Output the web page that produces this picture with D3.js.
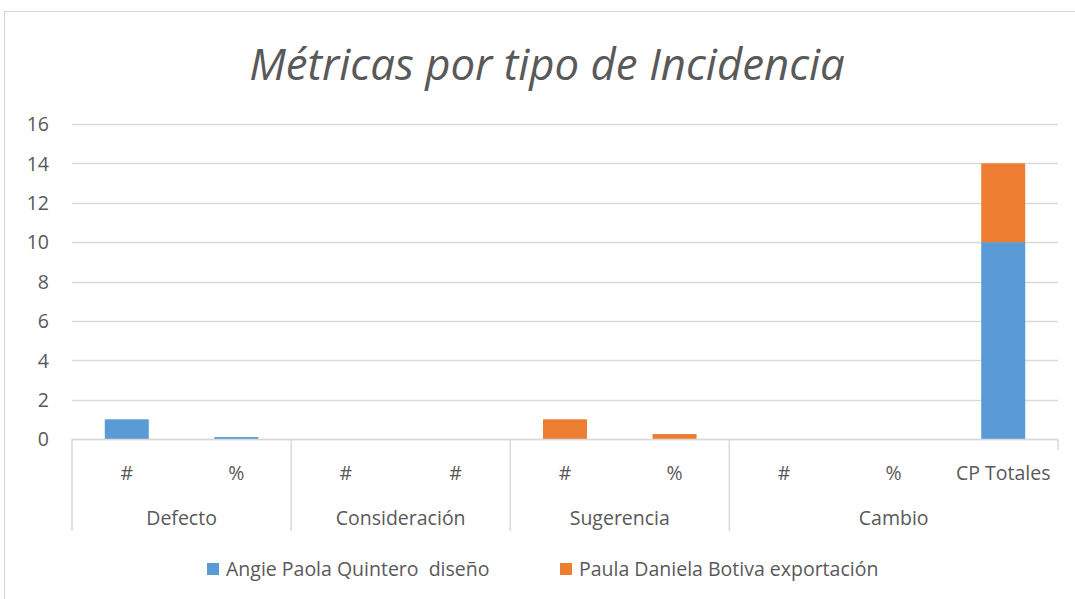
<!DOCTYPE html>
<html>
<head>
<meta charset="utf-8">
<script src="https://cdn.jsdelivr.net/npm/d3@7"></script>
<style>
  html, body { margin: 0; padding: 0; background: #fff; }
  svg { display: block; }
</style>
</head>
<body>
<div id="chart"></div>
<script>
// Category groups and their sub-category labels
const groups = ["Defecto", "Consideración", "Sugerencia", "Cambio"];
const subLabels = [
  ["#", "%"],
  ["#", "#"],
  ["#", "%"],
  ["#", "%", "CP Totales"]
];
// Series values, one entry per sub-category (flattened in group order)
const seriesNames = ["Angie Paola Quintero  diseño", "Paula Daniela Botiva exportación"];
const angieValues = [1, 0.1, 0, 0, 0, 0, 0, 0, 10];
const paulaValues = [0, 0, 0, 0, 1, 0.25, 0, 0, 4];
const yTicks = [0, 2, 4, 6, 8, 10, 12, 14, 16];
const colors = ["#5B9BD5", "#ED7D31"];

const W = 1075, H = 599;
const font = "'Open Sans', Lato, sans-serif";
const textColor = "#595959";
const gridColor = "#d9d9d9";
const labelSize = 19.5;

const svg = d3.select("#chart").append("svg")
  .attr("width", W).attr("height", H);

// outer chart frame
svg.append("rect")
  .attr("x", 4.5).attr("y", 11.5)
  .attr("width", W + 10).attr("height", H + 10)
  .attr("fill", "none").attr("stroke", gridColor).attr("stroke-width", 1.2);

const plot = { left: 72, right: 1058, top: 124, bottom: 439 };

// flatten categories with group index
const cats = [];
subLabels.forEach((subs, gi) => subs.forEach(s => cats.push({ group: gi, label: s })));
cats.forEach((c, i) => { c.i = i; c.angie = angieValues[i]; c.paula = paulaValues[i]; });

const xStep = (plot.right - plot.left) / cats.length;
const xCenter = i => plot.left + xStep * (i + 0.5);

const y = d3.scaleLinear().domain([0, 16]).range([plot.bottom, plot.top]);

// horizontal gridlines
svg.append("g").selectAll("line")
  .data(yTicks)
  .join("line")
  .attr("x1", plot.left).attr("x2", plot.right)
  .attr("y1", d => Math.round(y(d)) + 0.5).attr("y2", d => Math.round(y(d)) + 0.5)
  .attr("stroke", gridColor).attr("stroke-width", 1.5);

// y axis labels
const yAxis = d3.axisLeft(y).tickValues(yTicks).tickSize(0).tickPadding(0);
const yG = svg.append("g").attr("transform", `translate(${plot.left - 23},0)`).call(yAxis);
yG.select(".domain").remove();
yG.selectAll("text")
  .attr("font-family", font).attr("font-size", labelSize).attr("fill", textColor)
  .attr("dy", "0.35em");

// stacked bars
const stack = d3.stack().keys(["angie", "paula"]);
const stacked = stack(cats);
const barW = 44;
svg.append("g").selectAll("g")
  .data(stacked)
  .join("g")
  .attr("fill", (d, i) => colors[i])
  .selectAll("rect")
  .data(d => d)
  .join("rect")
  .attr("x", (d, i) => xCenter(i) - barW / 2)
  .attr("width", barW)
  .attr("y", d => y(d[1]))
  .attr("height", d => Math.max(0, y(d[0]) - y(d[1])));

// axis baseline
svg.append("line")
  .attr("x1", plot.left).attr("x2", plot.right)
  .attr("y1", plot.bottom + 0.5).attr("y2", plot.bottom + 0.5)
  .attr("stroke", gridColor).attr("stroke-width", 1.5);

// group dividers for the multi-level axis
let acc = 0;
const boundaries = [0];
subLabels.forEach(s => { acc += s.length; boundaries.push(acc); });
svg.append("g").selectAll("line")
  .data(boundaries)
  .join("line")
  .attr("x1", d => plot.left + d * xStep).attr("x2", d => plot.left + d * xStep)
  .attr("y1", plot.bottom)
  .attr("y2", (d, i) => i === boundaries.length - 1 ? plot.bottom + 11 : 531)
  .attr("stroke", gridColor).attr("stroke-width", 1.5);

// sub-category labels
svg.append("g").selectAll("text")
  .data(cats)
  .join("text")
  .attr("x", d => xCenter(d.i))
  .attr("y", 473)
  .attr("dy", "0.35em")
  .attr("text-anchor", "middle")
  .attr("font-family", font).attr("font-size", labelSize).attr("fill", textColor)
  .text(d => d.label);

// group labels
svg.append("g").selectAll("text")
  .data(groups)
  .join("text")
  .attr("x", (d, i) => plot.left + xStep * (boundaries[i] + boundaries[i + 1]) / 2)
  .attr("y", 518)
  .attr("dy", "0.35em")
  .attr("text-anchor", "middle")
  .attr("font-family", font).attr("font-size", labelSize).attr("fill", textColor)
  .text(d => d);

// title
const title = svg.append("text")
  .attr("x", 547).attr("y", 80)
  .attr("text-anchor", "middle")
  .attr("font-family", font).attr("font-style", "italic")
  .attr("font-size", 40).attr("fill", textColor)
  .text("Métricas por tipo de Incidencia");
const tw = title.node().getComputedTextLength();
title.attr("font-size", 40 * 596 / tw);

// legend
const legendX = [207, 560];
const lg = svg.append("g").selectAll("g")
  .data(seriesNames)
  .join("g")
  .attr("transform", (d, i) => `translate(${legendX[i]},569)`);
lg.append("rect")
  .attr("x", 0).attr("y", -6).attr("width", 12).attr("height", 12)
  .attr("fill", (d, i) => colors[i]);
lg.append("text")
  .attr("x", 19).attr("y", 0).attr("dy", "0.35em")
  .attr("font-family", font).attr("font-size", labelSize).attr("fill", textColor)
  .attr("xml:space", "preserve")
  .style("white-space", "pre")
  .text(d => d);
</script>
</body>
</html>
